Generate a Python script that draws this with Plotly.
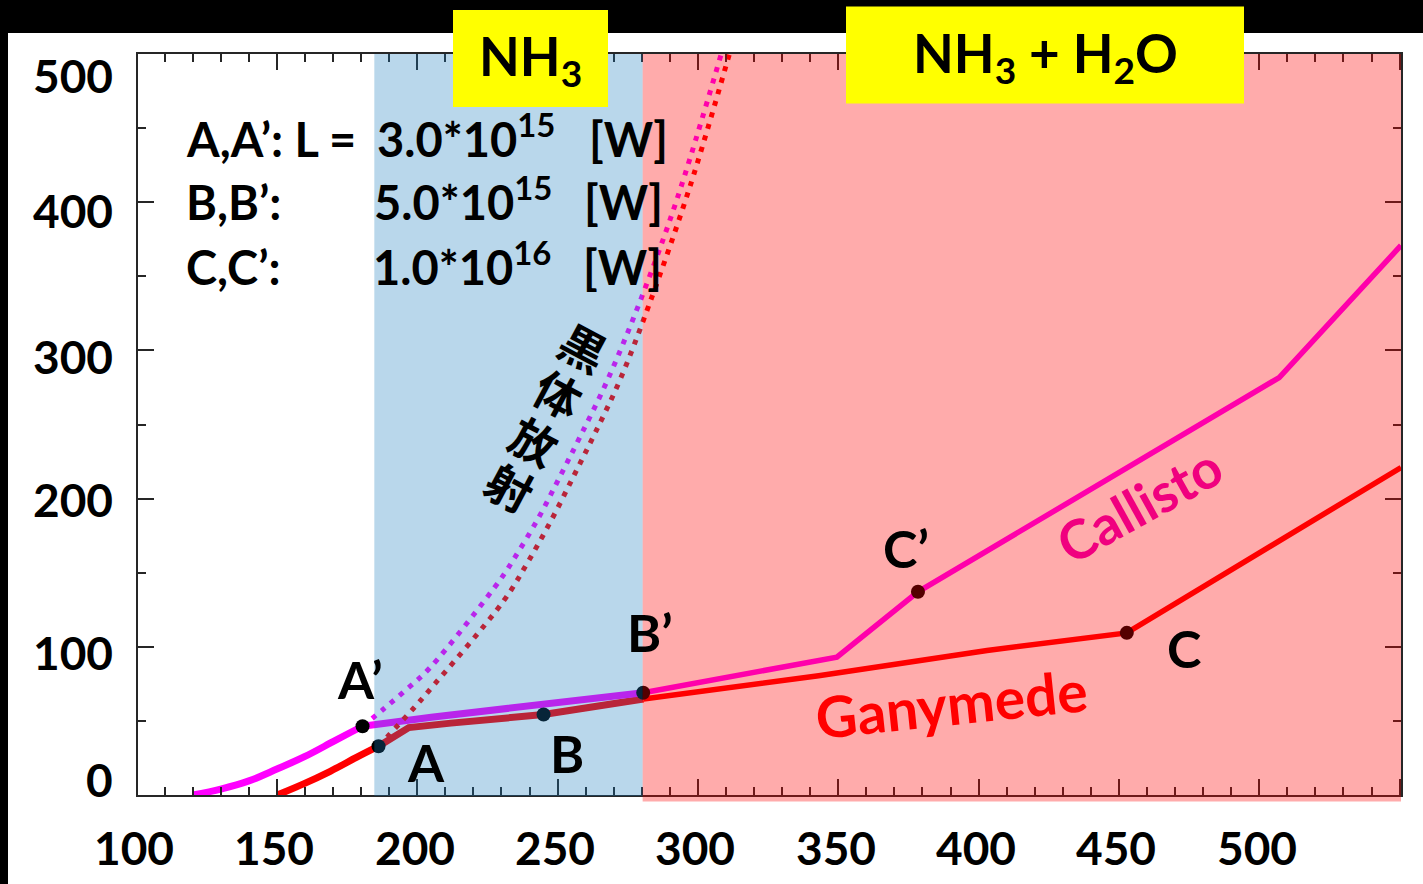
import plotly.graph_objects as go

# ---------------- data ----------------
x_tick_vals = [100, 150, 200, 250, 300, 350, 400, 450, 500]
y_tick_vals = [0, 100, 200, 300, 400, 500]

# Callisto curve (solid)
callisto_T = [120, 130, 140, 150, 160, 170, 176, 180.5, 205, 280.5, 349.5, 378.4, 507.1, 550.5]
callisto_F = [0, 4, 9.5, 17.5, 26, 36, 42, 46.4, 52.5, 69, 93, 137.1, 281.7, 370.8]

# Ganymede curve (solid)
ganymede_T = [150.1, 159.5, 169, 178.5, 186.2, 197, 212, 229.6, 245, 280.6, 343, 403, 452.8, 550.5]
ganymede_F = [0, 7.5, 16, 25.5, 32.9, 45.5, 48.5, 51, 54.3, 64.8, 80.5, 97.5, 109.4, 221]

# blackbody emission curves (dotted)
bb_callisto_T = [180.5, 188, 196.3, 204.6, 229.6, 234.3, 243.2, 250.9, 258.1, 267.6, 279.4, 292.5, 308.3]
bb_callisto_F = [46.4, 58, 71.5, 86, 145.4, 158.9, 187, 215.1, 242.1, 279.2, 333.2, 401.8, 500]
bb_ganymede_T = [186.2, 198.7, 204, 230.7, 239.6, 248.5, 256.3, 263.4, 272.3, 282.4, 297.2, 311.2]
bb_ganymede_F = [33, 58.5, 70, 130.8, 157.8, 188.1, 217.4, 244.4, 280.4, 329.8, 410.8, 500]

# marked states
point_names = ["A’", "A", "B", "B’", "C’", "C"]
point_T = [180.5, 186.2, 245, 280.5, 378.4, 452.8]
point_F = [46.4, 32.9, 54.3, 69, 137.1, 109.4]

# luminosity legend
lum_rows = ["A,A’: L =", "B,B’:", "C,C’:"]
lum_vals = ["3.0*10<sup>15</sup>", "5.0*10<sup>15</sup>", "1.0*10<sup>16</sup>"]
lum_unit = "[W]"

# composition bands (temperature limits)
nh3_band = [184.7, 280.3]
mixed_band = [280.3, 550.5]

# ---------------- geometry / style ----------------
W, H = 1423, 884
M_L, M_R, M_T, M_B = 138, 22, 54, 88.5
PLOT_W = W - M_L - M_R
PLOT_H = H - M_T - M_B
X_RANGE = [100.5, 550.5]
Y_RANGE = [0, 500]


def px(xp):
    return (xp - M_L) / PLOT_W


def py(yp):
    return (H - M_B - yp) / PLOT_H


def t_to_paper(t):
    return (t - X_RANGE[0]) / (X_RANGE[1] - X_RANGE[0])


FONT = "Lato, 'Noto Sans', sans-serif"
AXIS_COLOR = "#262626"
MAGENTA = "#FF00FF"
RED = "#FF0000"

fig = go.Figure()


def pieces(ts, fs, knee, edge):
    """Split a curve into the low-temperature bend, the NH3 part and the mixed part."""
    low = [(t, f) for t, f in zip(ts, fs) if t <= knee]
    mid = [(t, f) for t, f in zip(ts, fs) if knee <= t <= edge + 0.5]
    high = [(t, f) for t, f in zip(ts, fs) if t >= edge - 0.5]
    return [(low, 7, "spline"), (mid, 7, "linear"), (high, 5.5, "linear")]


for ts, fs, col, knee in [(ganymede_T, ganymede_F, RED, 186.2),
                          (callisto_T, callisto_F, MAGENTA, 180.5)]:
    for seg, wd, shp in pieces(ts, fs, knee, 280.5):
        fig.add_trace(go.Scatter(
            x=[p[0] for p in seg], y=[p[1] for p in seg], mode="lines",
            line=dict(color=col, width=wd, shape=shp), hoverinfo="skip", showlegend=False))

for ts, fs, col in [(bb_callisto_T, bb_callisto_F, MAGENTA), (bb_ganymede_T, bb_ganymede_F, RED)]:
    fig.add_trace(go.Scatter(
        x=ts, y=fs, mode="lines",
        line=dict(color=col, width=5, dash="5px,7px", shape="spline"),
        hoverinfo="skip", showlegend=False))

fig.add_trace(go.Scatter(
    x=point_T, y=point_F, mode="markers",
    marker=dict(color="black", size=14), hoverinfo="skip", showlegend=False))

# ---------------- shapes ----------------
shapes = [
    # black frame strips
    dict(type="rect", xref="paper", yref="paper", x0=px(-20), x1=px(8),
         y0=py(H + 20), y1=py(-20), fillcolor="black", line=dict(width=0), layer="below"),
    dict(type="rect", xref="paper", yref="paper", x0=px(-20), x1=px(W + 20),
         y0=py(33), y1=py(-20), fillcolor="black", line=dict(width=0), layer="below"),
    # translucent composition bands drawn over the curves
    dict(type="rect", xref="x", yref="paper", x0=nh3_band[0], x1=nh3_band[1],
         y0=py(796.5), y1=1, fillcolor="rgba(22,122,188,0.30)", line=dict(width=0), layer="above"),
    dict(type="rect", xref="x", yref="paper", x0=mixed_band[0], x1=mixed_band[1] + 1,
         y0=py(802), y1=1, fillcolor="rgba(255,0,0,0.33)", line=dict(width=0), layer="above"),
    # yellow title boxes
    dict(type="rect", xref="paper", yref="paper", x0=px(453), x1=px(608), y0=py(107), y1=py(10),
         fillcolor="#FFFF00", line=dict(width=0), layer="above"),
    dict(type="rect", xref="paper", yref="paper", x0=px(846), x1=px(1244), y0=py(103.5), y1=py(6.5),
         fillcolor="#FFFF00", line=dict(width=0), layer="above"),
]

# ---------------- annotations ----------------
ann = []
y_label_nudge = [15.5, -5.2, -0.9, -6.1, -8.3, -21.5]  # px, per y tick label
for v, dy in zip(y_tick_vals, y_label_nudge):
    ann.append(dict(x=px(115), xref="paper", y=v, yref="y", text=str(v), showarrow=False,
                    xanchor="right", yanchor="middle", yshift=dy,
                    font=dict(family=FONT, size=46, color="black", weight="bold")))
for v in x_tick_vals:
    ann.append(dict(x=t_to_paper(v), xref="paper", y=py(848), yref="paper", text=str(v),
                    showarrow=False, xanchor="center", yanchor="middle", xshift=-2.5,
                    font=dict(family=FONT, size=46, color="black", weight="bold")))

# point labels (offsets in px from each marker)
label_shift = [(-3, 47), (47, -16), (23, -38), (7, 61), (-12, 44), (57, -15)]
for name, t, f, (dx, dy) in zip(point_names, point_T, point_F, label_shift):
    ann.append(dict(x=t, y=f, text=name, showarrow=False, xshift=dx, yshift=dy,
                    xanchor="center", yanchor="middle",
                    font=dict(family=FONT, size=52, color="black", weight="bold")))

# luminosity legend
row_base = [168, 231.5, 296]
val_left = [376, 372.5, 372]
unit_left = [588, 583, 582]
for lab, val, yb, vx, ux in zip(lum_rows, lum_vals, row_base, val_left, unit_left):
    for txt, xl in [(lab, 185), (val, vx), (lum_unit, ux)]:
        ann.append(dict(x=px(xl), xref="paper", y=py(yb), yref="paper", text=txt, showarrow=False,
                        xanchor="left", yanchor="bottom", borderpad=0,
                        font=dict(family=FONT, size=47, color="black", weight="bold")))

# band titles
ann.append(dict(x=px(530.5), xref="paper", y=py(60), yref="paper", text="NH<sub>3</sub>",
                showarrow=False, xanchor="center", yanchor="middle",
                font=dict(family=FONT, size=53, color="black", weight="bold")))
ann.append(dict(x=px(1045), xref="paper", y=py(57), yref="paper", text="NH<sub>3</sub> + H<sub>2</sub>O",
                showarrow=False, xanchor="center", yanchor="middle",
                font=dict(family=FONT, size=53, color="black", weight="bold")))

# curve names
ann.append(dict(x=457.2, y=196, text="Callisto", showarrow=False, textangle=-29,
                font=dict(family=FONT, size=54, color="#F0007F", weight="bold")))
ann.append(dict(x=390.5, y=62.2, text="Ganymede", showarrow=False, textangle=-6,
                font=dict(family=FONT, size=57, color=RED, weight="bold")))

# vertical caption along the blackbody curves, one glyph at a time
caption = "黒体放射"
step = 52.7
for k, ch in enumerate(caption):
    s = (k - (len(caption) - 1) / 2) * step
    ann.append(dict(x=246.2, y=255.6, text=ch, showarrow=False, textangle=28,
                    xshift=-0.464 * s, yshift=-0.886 * s,
                    font=dict(family="'Noto Sans CJK JP', sans-serif", size=46, color="black",
                              weight="bold")))

axis_common = dict(showline=True, linecolor=AXIS_COLOR, linewidth=2, mirror="ticks",
                   ticks="inside", tickcolor=AXIS_COLOR, tickwidth=2, ticklen=16,
                   showticklabels=False, showgrid=False, zeroline=False, fixedrange=True)

fig.update_layout(
    width=W, height=H,
    margin=dict(l=M_L, r=M_R, t=M_T, b=M_B, pad=0),
    paper_bgcolor="white", plot_bgcolor="white",
    xaxis=dict(range=X_RANGE, tick0=0, dtick=50,
               minor=dict(ticks="inside", ticklen=8, tickwidth=2, tickcolor=AXIS_COLOR, dtick=10),
               **axis_common),
    yaxis=dict(range=Y_RANGE, tick0=0, dtick=100,
               minor=dict(ticks="inside", ticklen=8, tickwidth=2, tickcolor=AXIS_COLOR, dtick=50),
               **axis_common),
    shapes=shapes,
    annotations=ann,
    showlegend=False,
)

fig.write_html("out.html", include_plotlyjs=True, config={"displayModeBar": False})
